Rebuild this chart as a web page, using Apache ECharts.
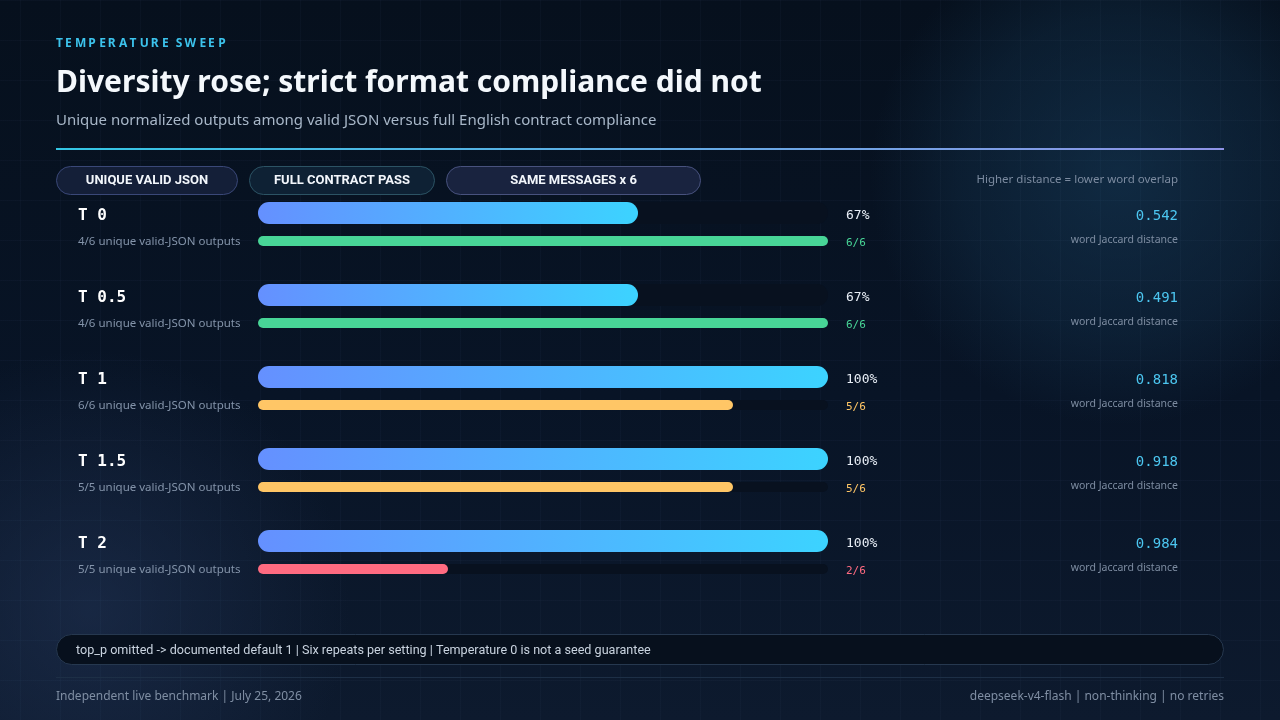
<!DOCTYPE html>
<html>
<head>
<meta charset="utf-8">
<script src="https://cdn.jsdelivr.net/npm/echarts@6/dist/echarts.min.js"></script>
<style>
  html, body { margin: 0; padding: 0; }
  body {
    width: 1280px; height: 720px; overflow: hidden;
    background:
      radial-gradient(circle at 1120px 175px, rgba(22,58,88,0.6) 0, rgba(22,58,88,0.3) 160px, rgba(22,58,88,0) 250px),
      radial-gradient(circle at 90px 610px, rgba(34,52,86,0.55) 0, rgba(34,52,86,0) 260px),
      linear-gradient(180deg, #06101d 0%, #081426 55%, #0d1a2e 100%);
  }
  #grid {
    position: absolute; left: 0; top: 0; width: 1280px; height: 720px;
    background-image:
      linear-gradient(rgba(120,160,210,0.035) 1px, transparent 1px),
      linear-gradient(90deg, rgba(120,160,210,0.035) 1px, transparent 1px);
    background-size: 40px 40px;
    background-position: 20px 0;
  }
  #chart { position: absolute; left: 0; top: 0; width: 1280px; height: 720px; }
</style>
</head>
<body>
<div id="grid"></div>
<div id="chart"></div>
<script>
// ---- data ----
const temps = ['0', '0.5', '1', '1.5', '2'];
const uniqueOutputs = [4, 4, 6, 5, 5];
const validJson = [6, 6, 6, 5, 5];
const contractPass = [6, 6, 5, 5, 2];
const repeats = 6;
const jaccard = [0.542, 0.491, 0.818, 0.918, 0.984];
const legendPills = ['UNIQUE VALID JSON', 'FULL CONTRACT PASS', 'SAME MESSAGES x 6'];

const uniqueRate = uniqueOutputs.map((u, i) => u / validJson[i]);
const passRate = contractPass.map(p => p / repeats);
const passColor = p => p === repeats ? '#48d597' : (p / repeats >= 0.5 ? '#ffc666' : '#ff6b81');

const SANS = '"Noto Sans", "Open Sans", sans-serif';
const MONO = '"DejaVu Sans Mono", monospace';
const NARROW = 'Roboto, sans-serif';

// zrender text has no letterSpacing, so spread the kicker with thin / punctuation spaces
const spaced = s => s.split('').map((c, i) => (i ? (i % 2 ? '\u2009' : '\u2008') : '') + c).join('');

const chart = echarts.init(document.getElementById('chart'), null, { renderer: 'canvas' });

const rowH = 82;
const H = rowH * temps.length;
// bar grids + label grids (label grids nudged a few px so text sits like the reference)
const gridTops = [213, 241, 216, 242, 243, 240].map(c => c - rowH / 2);
const grids = gridTops.map(t => ({ left: 258, width: 570, top: t, height: H }));

const catAxis = (gridIndex, extra) => Object.assign({
  type: 'category', gridIndex, data: temps, inverse: true,
  axisLine: { show: false }, axisTick: { show: false }, splitLine: { show: false }
}, extra);

const pillX = [56, 249, 446];
const pillW = [181, 185, 254];
const pillFill = ['#141f38', '#0e2134', '#19233f'];
const pillStroke = ['#3a4878', '#2c5364', '#48527e'];

chart.setOption({
  animation: false,
  grid: grids,
  xAxis: grids.map((g, i) => ({ type: 'value', gridIndex: i, min: 0, max: 1, show: false })),
  yAxis: [
    catAxis(0, { axisLabel: { show: false } }),
    catAxis(1, { axisLabel: { show: false } }),
    catAxis(2, { axisLabel: { align: 'left', margin: 180, color: '#ffffff', fontFamily: MONO, fontWeight: 'bold', fontSize: 16,
      formatter: v => 'T ' + v } }),
    catAxis(2, { position: 'right', axisLabel: { align: 'left', margin: 18, color: '#e8eef6', fontFamily: MONO, fontSize: 13,
      formatter: (v, i) => Math.round(uniqueRate[i] * 100) + '%' } }),
    catAxis(2, { position: 'right', offset: 350, axisLabel: { align: 'right', margin: 0, color: '#4cc6f0', fontFamily: MONO, fontSize: 14,
      formatter: (v, i) => jaccard[i].toFixed(3) } }),
    catAxis(3, { axisLabel: { align: 'left', margin: 180, color: '#8494aa', fontFamily: SANS, fontSize: 11.5,
      formatter: (v, i) => uniqueOutputs[i] + '/' + validJson[i] + ' unique valid-JSON outputs' } }),
    catAxis(4, { position: 'right', axisLabel: { align: 'left', margin: 18, fontFamily: MONO, fontSize: 11,
      color: v => passColor(contractPass[temps.indexOf(v)]),
      formatter: (v, i) => contractPass[i] + '/' + repeats } }),
    catAxis(5, { position: 'right', offset: 350, axisLabel: { align: 'right', margin: 0, color: '#7d8ca1', fontFamily: SANS, fontSize: 10.5,
      formatter: () => 'word Jaccard distance' } })
  ],
  series: [
    {
      type: 'bar', xAxisIndex: 0, yAxisIndex: 0, barWidth: 22,
      data: uniqueRate,
      showBackground: true,
      backgroundStyle: { color: '#08111f', borderRadius: 11 },
      itemStyle: {
        borderRadius: 11,
        color: new echarts.graphic.LinearGradient(0, 0, 1, 0, [
          { offset: 0, color: '#6590ff' },
          { offset: 1, color: '#3cd3ff' }
        ])
      }
    },
    {
      type: 'bar', xAxisIndex: 1, yAxisIndex: 1, barWidth: 10,
      data: passRate.map((v, i) => ({ value: v, itemStyle: { color: passColor(contractPass[i]) } })),
      showBackground: true,
      backgroundStyle: { color: '#08111f', borderRadius: 5 },
      itemStyle: { borderRadius: 5 }
    }
  ],
  graphic: [
    { type: 'text', left: 56, top: 38, style: { text: spaced('TEMPERATURE') + '\u2009 \u2009' + spaced('SWEEP'), fill: '#3cc3ec', font: 'bold 12px ' + SANS } },
    { type: 'text', left: 56, top: 68, style: { text: 'Diversity rose; strict format compliance did not', fill: '#f4f8fc', font: 'bold 30px ' + SANS } },
    { type: 'text', left: 56, top: 113, style: { text: 'Unique normalized outputs among valid JSON versus full English contract compliance', fill: '#a8b7c8', font: '15px ' + SANS } },
    { type: 'rect', shape: { x: 56, y: 148, width: 1168, height: 2 },
      style: { fill: new echarts.graphic.LinearGradient(0, 0, 1, 0, [
        { offset: 0, color: '#33c6e4' }, { offset: 1, color: '#8f93e6' }]) } },
    ...legendPills.map((t, i) => ({
      type: 'group', left: pillX[i], top: 166,
      children: [
        { type: 'rect', shape: { x: 0, y: 0, width: pillW[i], height: 28, r: 14 }, style: { fill: pillFill[i], stroke: pillStroke[i], lineWidth: 1 } },
        { type: 'text', x: pillW[i] / 2, y: 14.5, style: { text: t, fill: '#f2f6fb', font: 'bold 13px ' + NARROW, align: 'center', verticalAlign: 'middle' } }
      ]
    })),
    { type: 'text', right: 102, top: 174, style: { text: 'Higher distance = lower word overlap', fill: '#7c8ba0', font: '11.5px ' + SANS } },
    { type: 'rect', shape: { x: 56.5, y: 634.5, width: 1167, height: 30, r: 15 }, style: { fill: '#07101d', stroke: '#26384f', lineWidth: 1 } },
    { type: 'text', left: 76, top: 644, style: { text: 'top_p omitted -> documented default 1 | Six repeats per setting | Temperature 0 is not a seed guarantee', fill: '#c9d3df', font: '12.6px ' + NARROW } },
    { type: 'rect', shape: { x: 56, y: 677, width: 1168, height: 1 }, style: { fill: '#1d2f46' } },
    { type: 'text', left: 56, top: 691, style: { text: 'Independent live benchmark | July 25, 2026', fill: '#7f8ea3', font: '12px ' + SANS } },
    { type: 'text', right: 56, top: 691, style: { text: 'deepseek-v4-flash | non-thinking | no retries', fill: '#7f8ea3', font: '12px ' + SANS } }
  ]
});
</script>
</body>
</html>
